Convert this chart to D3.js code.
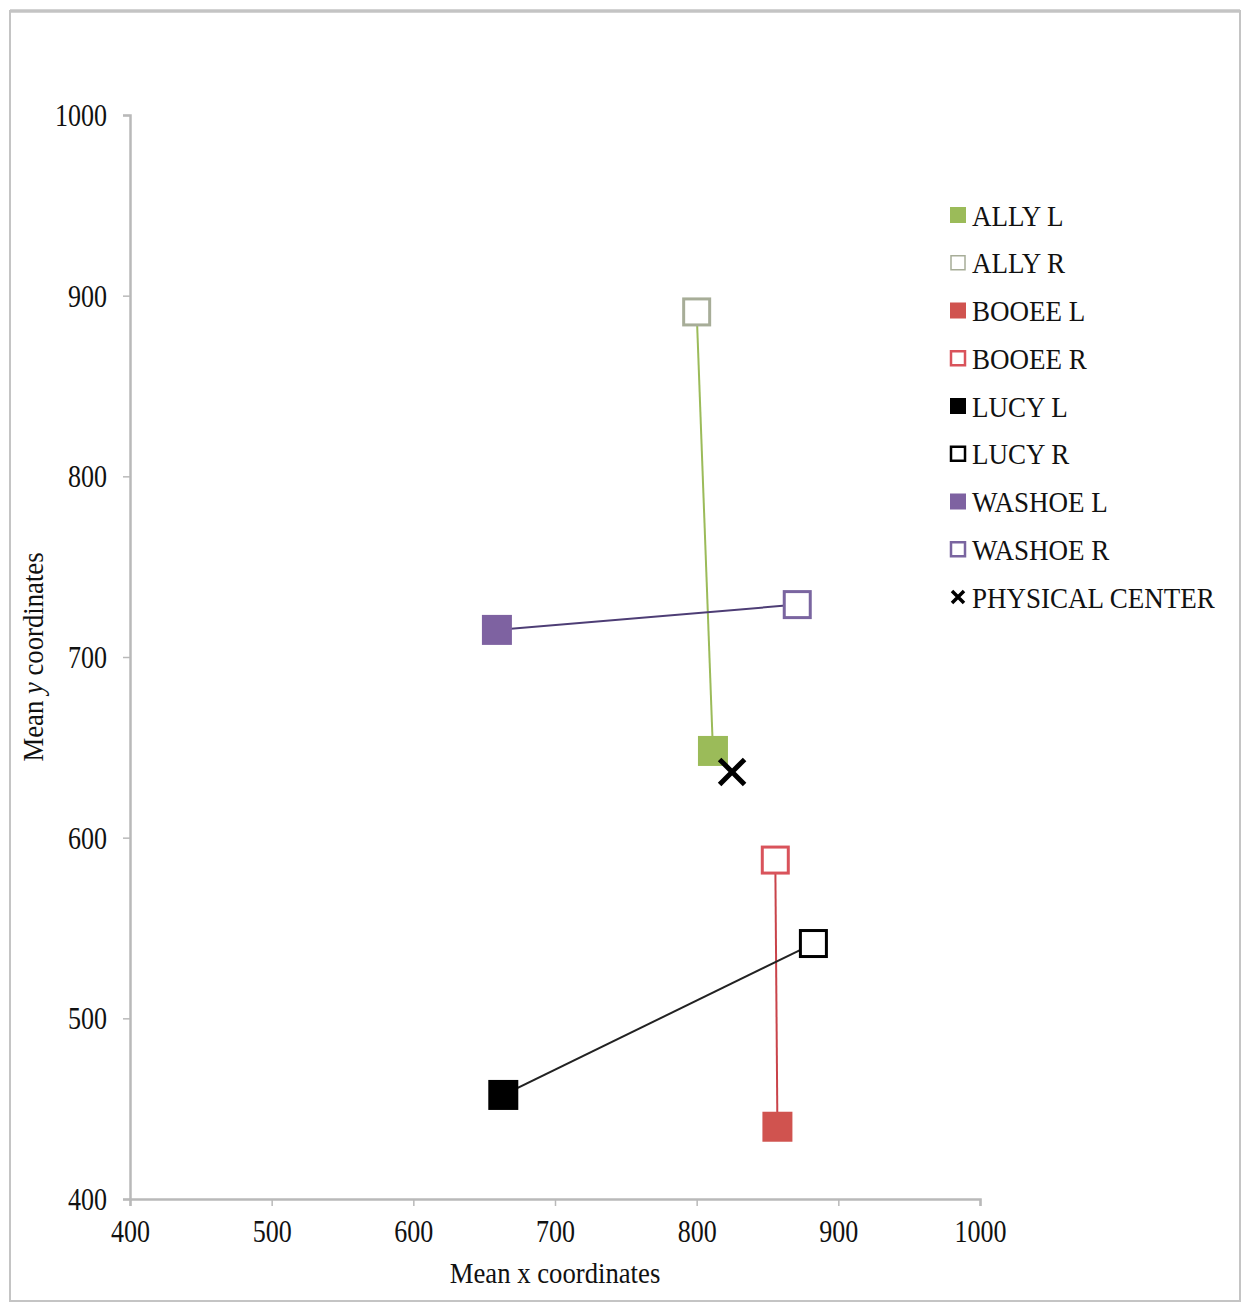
<!DOCTYPE html>
<html>
<head>
<meta charset="utf-8">
<script src="https://cdn.jsdelivr.net/npm/d3@7"></script>
<style>
  html, body { margin: 0; padding: 0; background: #fff; }
  svg { display: block; }
  text { font-family: "Liberation Serif", "Times New Roman", serif; fill: #111; }
</style>
</head>
<body>
<script>
// ---- data ----
const animals = ["ALLY", "BOOEE", "LUCY", "WASHOE"];
const leftX  = [811.5, 857, 663.5, 659];
const leftY  = [648, 440, 457.6, 715];
const rightX = [800, 855.5, 882.4, 871];
const rightY = [891, 587.6, 541.4, 729];
const centerPoint = [825, 636.4];
const xTicks = [400, 500, 600, 700, 800, 900, 1000];
const yTicks = [400, 500, 600, 700, 800, 900, 1000];
const legendLabels = ["ALLY L", "ALLY R", "BOOEE L", "BOOEE R", "LUCY L", "LUCY R", "WASHOE L", "WASHOE R", "PHYSICAL CENTER"];

// styles
const fillColors = ["#9bbb59", "#d0534f", "#000000", "#7e62a1"];
const openStroke = ["#a7ad98", "#d9535b", "#000000", "#7a65a0"];
const lineColors = ["#9bbb59", "#c9434a", "#222222", "#4d3d75"];

const W = 1246, H = 1306;
const svg = d3.select("body").append("svg").attr("width", W).attr("height", H);

// frame
svg.append("rect").attr("x", 10).attr("y", 11).attr("width", 1230).attr("height", 1290)
  .attr("fill", "#fff").attr("stroke", "#c4c4c4").attr("stroke-width", 2);
svg.append("line").attr("x1", 10).attr("x2", 1240).attr("y1", 11).attr("y2", 11)
  .attr("stroke", "#c4c4c4").attr("stroke-width", 3.5);

const x = d3.scaleLinear().domain([400, 1000]).range([130, 980]);
const y = d3.scaleLinear().domain([400, 1000]).range([1199, 115]);

function squeeze(sel, sx) {
  sel.each(function () {
    const len = this.getComputedTextLength();
    d3.select(this).attr("textLength", len * sx).attr("lengthAdjust", "spacingAndGlyphs");
  });
}

// axes
const xAxis = svg.append("g").attr("transform", `translate(0,${y(400)})`)
  .call(d3.axisBottom(x).tickValues(xTicks).tickSize(7).tickPadding(15).tickFormat(d3.format("d")));
const yAxis = svg.append("g").attr("transform", `translate(${x(400)},0)`)
  .call(d3.axisLeft(y).tickValues(yTicks).tickSize(7).tickPadding(16).tickFormat(d3.format("d")));
[xAxis, yAxis].forEach(g => {
  g.select(".domain").attr("stroke", "#b9b9b9").attr("stroke-width", 2.5);
  g.selectAll(".tick line").attr("stroke", "#b9b9b9").attr("stroke-width", 1.5);
  g.selectAll(".tick text").attr("font-family", "Liberation Serif, serif")
    .attr("font-size", 31).attr("fill", "#111");
});
xAxis.selectAll(".tick text").attr("dy", "0.68em");
yAxis.selectAll(".tick text").attr("dy", "0.34em");
squeeze(xAxis.selectAll(".tick text"), 0.84);
squeeze(yAxis.selectAll(".tick text"), 0.84);

// axis titles
const xt = svg.append("text").attr("x", 555).attr("y", 1283).attr("text-anchor", "middle")
  .attr("font-size", 30).text("Mean x coordinates");
squeeze(xt, 0.89);
const yt = svg.append("text").attr("transform", `translate(43,657) rotate(-90)`)
  .attr("text-anchor", "middle").attr("font-size", 30);
yt.append("tspan").text("Mean ");
yt.append("tspan").attr("font-style", "italic").text("y");
yt.append("tspan").text(" coordinates");
squeeze(yt, 0.89);

// connecting lines
animals.forEach((a, i) => {
  svg.append("line")
    .attr("x1", x(leftX[i])).attr("y1", y(leftY[i]))
    .attr("x2", x(rightX[i])).attr("y2", y(rightY[i]))
    .attr("stroke", lineColors[i]).attr("stroke-width", 2);
});

// markers
const S = 30, SO = 26;
animals.forEach((a, i) => {
  svg.append("rect")
    .attr("x", x(leftX[i]) - S / 2).attr("y", y(leftY[i]) - S / 2)
    .attr("width", S).attr("height", S).attr("fill", fillColors[i]);
  svg.append("rect")
    .attr("x", x(rightX[i]) - SO / 2).attr("y", y(rightY[i]) - SO / 2)
    .attr("width", SO).attr("height", SO).attr("fill", "#fff")
    .attr("stroke", openStroke[i]).attr("stroke-width", 3);
});

// physical center X
function drawX(g, cx, cy, r, w) {
  g.append("path")
    .attr("d", `M${cx - r},${cy - r}L${cx + r},${cy + r}M${cx - r},${cy + r}L${cx + r},${cy - r}`)
    .attr("stroke", "#000").attr("stroke-width", w).attr("fill", "none");
}
drawX(svg, x(centerPoint[0]), y(centerPoint[1]), 12.5, 5);

// legend
const lg = svg.append("g");
legendLabels.forEach((lab, k) => {
  const cy = 215 + k * 47.75;
  const cx = 958;
  if (k < 8) {
    const i = Math.floor(k / 2);
    if (k % 2 === 0) {
      lg.append("rect").attr("x", cx - 8).attr("y", cy - 8).attr("width", 16).attr("height", 16)
        .attr("fill", fillColors[i]);
    } else {
      lg.append("rect").attr("x", cx - 7).attr("y", cy - 7).attr("width", 14).attr("height", 14)
        .attr("fill", "#fff").attr("stroke", openStroke[i]).attr("stroke-width", i === 0 ? 1.5 : 2.5);
    }
  } else {
    drawX(lg, cx, cy, 6, 3.5);
  }
  const t = lg.append("text").attr("x", 972).attr("y", cy + 10.5)
    .attr("font-size", 30).text(lab);
  squeeze(t, 0.9);
});
</script>
</body>
</html>
